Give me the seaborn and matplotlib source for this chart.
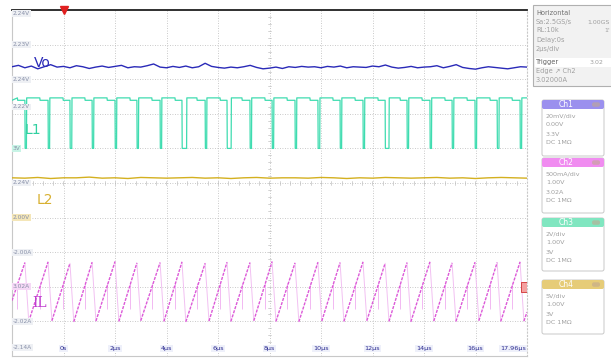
import numpy as np
import pandas as pd
import matplotlib
matplotlib.use("Agg")
import matplotlib.pyplot as plt
import seaborn as sns
from matplotlib.patches import FancyBboxPatch, Rectangle

sns.set_theme(style="white")
plt.rcParams['font.family'] = ['DejaVu Sans']

# ---------------- data (units: time in us, level in divisions) ----------------
x_ticks = [0, 2, 4, 6, 8, 10, 12, 14, 16, 18]
x_tick_labels = ["0s", "2\u03bcs", "4\u03bcs", "6\u03bcs", "8\u03bcs", "10\u03bcs", "12\u03bcs",
                 "14\u03bcs", "16\u03bcs", "17.96\u03bcs"]
y_label_pos = [0.25, 1, 2, 3, 4, 5, 6, 7.2, 8, 9, 9.9]
y_label_txt = ["-2.14A", "-2.02A", "3.02A", "-2.00A", "2.00V", "2.24V", "3V", "2.22V", "2.24V", "2.23V", "2.24V"]

# Vo (blue) ripple, evenly sampled across the screen
vo = [8.36, 8.40, 8.33, 8.38, 8.30, 8.36, 8.42, 8.35, 8.37, 8.33, 8.39, 8.36, 8.31, 8.35, 8.38, 8.34,
      8.37, 8.40, 8.33, 8.36, 8.35, 8.39, 8.44, 8.35, 8.33, 8.37, 8.34, 8.38, 8.33, 8.36, 8.46, 8.37,
      8.34, 8.32, 8.35, 8.33, 8.36, 8.40, 8.34, 8.30, 8.32, 8.35, 8.31, 8.36, 8.34, 8.37, 8.35, 8.36,
      8.33, 8.37, 8.35, 8.38, 8.33, 8.36, 8.35, 8.34, 8.38, 8.36, 8.41, 8.35, 8.32, 8.34, 8.37, 8.33,
      8.35, 8.36, 8.39, 8.33, 8.37, 8.42, 8.34, 8.31, 8.29, 8.33, 8.36, 8.34, 8.32, 8.30, 8.33, 8.36, 8.35]
# L2 (yellow) almost flat
l2 = [5.15, 5.14, 5.16, 5.13, 5.15, 5.15, 5.17, 5.14, 5.15, 5.13, 5.16, 5.15, 5.14, 5.15, 5.16,
      5.14, 5.15, 5.13, 5.15, 5.16, 5.14, 5.15, 5.15, 5.14, 5.16, 5.15, 5.13, 5.15, 5.14, 5.16,
      5.15, 5.14, 5.15, 5.16, 5.14, 5.15, 5.13, 5.15, 5.16, 5.15, 5.14]

# IL sawtooth: peak times / valley times and levels
il_peak_t = [-1.50, -0.60, 0.25, 1.11, 2.00, 2.85, 3.75, 4.60, 5.50, 6.35, 7.24, 8.10, 8.99, 9.88,
             10.74, 11.63, 12.49, 13.34, 14.23, 15.09, 15.98, 16.84, 17.73]
il_peak_v = [2.70, 2.72, 2.68, 2.71, 2.73, 2.69, 2.70, 2.72, 2.68, 2.71, 2.70, 2.73, 2.69, 2.71,
             2.70, 2.72, 2.68, 2.70, 2.72, 2.69, 2.71, 2.70, 2.72]
il_valley_t = [-1.35, -0.45, 0.40, 1.26, 2.15, 3.00, 3.90, 4.75, 5.65, 6.50, 7.39, 8.25, 9.14, 10.03,
               10.89, 11.78, 12.64, 13.49, 14.38, 15.24, 16.13, 16.98, 17.88]
il_valley_v = [1.00, 1.02, 0.99, 1.01, 1.00, 1.02, 1.00, 0.99, 1.01, 1.00, 1.02, 1.00, 0.99, 1.01,
               1.00, 1.02, 1.00, 0.99, 1.01, 1.00, 1.02, 1.00, 1.01]
il_start = (-2.0, 1.60)
il_end = (18.0, 1.27)

# L1 switching node: dip times/widths (aligned with IL peaks) and mid-period step times
l1_dip_t = il_peak_t
l1_dip_w = [0.06, 0.06, 0.07, 0.06, 0.06, 0.06, 0.06, 0.18, 0.06, 0.16, 0.06, 0.06, 0.06, 0.07,
            0.06, 0.06, 0.15, 0.06, 0.06, 0.06, 0.06, 0.07, 0.06]
step_t = [-1.79, -0.92, -0.02, 0.83, 1.69, 2.58, 3.43, 4.33, 5.18, 6.08, 6.93, 7.82, 8.68, 9.57,
          10.46, 11.32, 12.21, 13.07, 13.92, 14.81, 15.67, 16.56, 17.42]
l1_high, l1_step, l1_low = 7.46, 7.39, 6.00

# ---------------- figure ----------------
W, H = 611, 358
fig = plt.figure(figsize=(W / 100, H / 100), dpi=100)
fig.patch.set_facecolor("white")
L, R, T, B = 12, 527, 10, 356
ax = fig.add_axes([L / W, 1 - B / H, (R - L) / W, (B - T) / H])
ax.set_xlim(-2, 18)
ax.set_ylim(0, 10)
ax.set_facecolor("white")

# grid
for gx in range(-2, 19, 2):
    ax.axvline(gx, color="#b8b8b8", lw=0.6, ls=(0, (1, 2)), zorder=1)
for gy in range(1, 10):
    ax.axhline(gy, color="#b8b8b8", lw=0.6, ls=(0, (1, 2)), zorder=1)
# small ticks on center lines
for gx in np.arange(-2, 18.01, 0.4):
    ax.plot([gx, gx], [4.95, 5.05], color="#c0c0c0", lw=0.5, zorder=1)
for gy in np.arange(0, 10.01, 0.2):
    ax.plot([7.93, 8.07], [gy, gy], color="#c0c0c0", lw=0.5, zorder=1)

for s in ["left", "bottom", "right"]:
    ax.spines[s].set_color("#c8c8c8")
    ax.spines[s].set_linewidth(0.8)
ax.spines["right"].set_linestyle((0, (1, 2)))
ax.spines["top"].set_color("#202020")
ax.spines["top"].set_linewidth(1.3)
ax.set_xticks([])
ax.set_yticks([])

# Vo
t_vo = np.linspace(-2, 18, len(vo))
sns.lineplot(x=t_vo, y=vo, ax=ax, color="#2a2ab8", lw=1.0, zorder=5)
# L2
t_l2 = np.linspace(-2, 18, len(l2))
sns.lineplot(x=t_l2, y=l2, ax=ax, color="#d4b020", lw=1.0, zorder=5)

# IL: rising ramps (bright, dashed look) and fast drops (faint)
ramp_rows, drop_rows = [], []
prev_t, prev_v = il_start
for k, (pt, pv, vt, vv) in enumerate(zip(il_peak_t, il_peak_v, il_valley_t, il_valley_v)):
    ramp_rows += [(prev_t, prev_v, k), (pt, pv, k)]
    drop_rows += [(pt, pv, k), (vt, vv, k)]
    prev_t, prev_v = vt, vv
ramp_rows += [(prev_t, prev_v, len(il_peak_t)), (il_end[0], il_end[1], len(il_peak_t))]
ramps = pd.DataFrame(ramp_rows, columns=["t", "v", "seg"])
drops = pd.DataFrame(drop_rows, columns=["t", "v", "seg"])
sns.lineplot(data=drops, x="t", y="v", units="seg", estimator=None, sort=False, ax=ax,
             color="#f2c0f2", lw=0.7, zorder=4)
sns.lineplot(data=ramps, x="t", y="v", units="seg", estimator=None, sort=False, ax=ax,
             color="#dc5ad8", lw=1.0, ls=(0, (2.2, 0.9)), zorder=5)
ax.vlines(step_t, 1.35, 2.1, color="#f2b8f2", lw=0.7, zorder=4)

# L1 polyline
l1_t, l1_v = [-2.0], [l1_step]
for i, (dt, w) in enumerate(zip(l1_dip_t, l1_dip_w)):
    st = step_t[i]
    if st > l1_t[-1]:
        l1_t += [st, st + 0.01]
        l1_v += [l1_high, l1_step]
    l1_t += [dt, dt + 0.01, dt + w, dt + w + 0.01]
    l1_v += [l1_step, l1_low, l1_low, l1_high]
l1_t.append(18.0)
l1_v.append(l1_high)
l1_df = pd.DataFrame({"t": l1_t, "v": l1_v})
sns.lineplot(data=l1_df, x="t", y="v", estimator=None, sort=False, ax=ax,
             color="#3fdcb0", lw=0.9, zorder=5)

# channel labels
ax.text(-0.83, 8.47, "Vo", color="#2a2ab8", fontsize=10, ha="center", va="center", zorder=6)
ax.text(-1.18, 6.53, "L1", color="#30d0a0", fontsize=10, ha="center", va="center", zorder=6)
ax.text(-0.72, 4.50, "L2", color="#d8b030", fontsize=10, ha="center", va="center", zorder=6)
ax.text(-0.91, 1.53, "IL", color="#c040d0", fontsize=10, family="DejaVu Serif",
        ha="center", va="center", zorder=6)

# x labels inside bottom
for xt, lab in zip(x_ticks, x_tick_labels):
    ha = "center" if xt < 18 else "right"
    xx = xt if xt < 18 else 17.95
    ax.text(xx, 0.22, lab, color="#2a2a90", fontsize=4.6, ha=ha, va="center", zorder=6,
            bbox=dict(boxstyle="square,pad=0.15", fc="#eef0fa", ec="none"))

# y labels inside left
box_cols = {6: "#c8f4e6", 4: "#f4e6b8", 2: "#f6d8f6"}
for yp, lab in zip(y_label_pos, y_label_txt):
    fc = box_cols.get(yp, "#eef0f4")
    ax.text(-1.97, yp, lab, color="#8890a8", fontsize=4.2, ha="left", va="center", zorder=6,
            bbox=dict(boxstyle="square,pad=0.15", fc=fc, ec="none"))

# trigger marker and channel marker
ax.plot([0], [10], marker="v", color="#e02020", markersize=6, clip_on=False, zorder=7)
ax.add_patch(Rectangle((17.75, 1.85), 0.25, 0.3, fc="#f4a0a0", ec="#d03030", lw=0.6, zorder=7))

# ---------------- right info panel ----------------
ov = fig.add_axes([0, 0, 1, 1])
ov.set_xlim(0, W)
ov.set_ylim(H, 0)
ov.axis("off")
ov.patch.set_alpha(0)

ov.add_patch(Rectangle((533, 5), 80, 81, fc="#f2f2f2", ec="#b0b0b0", lw=0.8))
ov.add_patch(Rectangle((535, 58), 76, 9, fc="white", ec="none"))
hrows = [("Horizontal", 13, "#707070"), ("Sa:2.5GS/s", 22, "#a0a0a0"), ("RL:10k", 30, "#a0a0a0"),
         ("Delay:0s", 40, "#a0a0a0"), ("2\u03bcs/div", 49, "#a0a0a0"), ("Trigger", 62, "#606060"),
         ("Edge \u2197 Ch2", 71, "#a0a0a0"), ("3.02000A", 80, "#a0a0a0")]
for txt, yy, c in hrows:
    ov.text(536, yy, txt, fontsize=4.8, color=c, va="center", ha="left")
ov.text(610, 22, "1.00GS", fontsize=4.5, color="#a0a0a0", va="center", ha="right")
ov.text(610, 30, "1'", fontsize=4.5, color="#a0a0a0", va="center", ha="right")
ov.text(603, 62, "3.02", fontsize=4.5, color="#a0a0a0", va="center", ha="right")

boxes = [("Ch1", "#9b90ee", 100, 156, ["20mV/div", "0.00V", "3.3V", "DC 1M\u03a9"]),
         ("Ch2", "#f08cf0", 158, 213, ["500mA/div", "1.00V", "3.02A", "DC 1M\u03a9"]),
         ("Ch3", "#80e6c0", 218, 271, ["2V/div", "1.00V", "3V", "DC 1M\u03a9"]),
         ("Ch4", "#e6cc78", 280, 334, ["5V/div", "1.00V", "3V", "DC 1M\u03a9"])]
for name, col, y0, y1, lines in boxes:
    ov.add_patch(FancyBboxPatch((542, y0), 62, y1 - y0, boxstyle="round,pad=0,rounding_size=2",
                                fc="white", ec="#c8c8c8", lw=0.7))
    ov.add_patch(FancyBboxPatch((542, y0), 62, 9, boxstyle="round,pad=0,rounding_size=2",
                                fc=col, ec="none"))
    ov.text(566, y0 + 4.7, name, fontsize=5.5, color="white", ha="center", va="center")
    ov.add_patch(FancyBboxPatch((592, y0 + 2.3), 8, 4.5, boxstyle="round,pad=0,rounding_size=2",
                                fc="#c0a890", ec="none", alpha=0.6))
    for k, ln in enumerate(lines):
        ov.text(546, y0 + 16 + k * 9, ln, fontsize=4.6, color="#a0a0a0", ha="left", va="center")

fig.savefig("out.png", dpi=100)
